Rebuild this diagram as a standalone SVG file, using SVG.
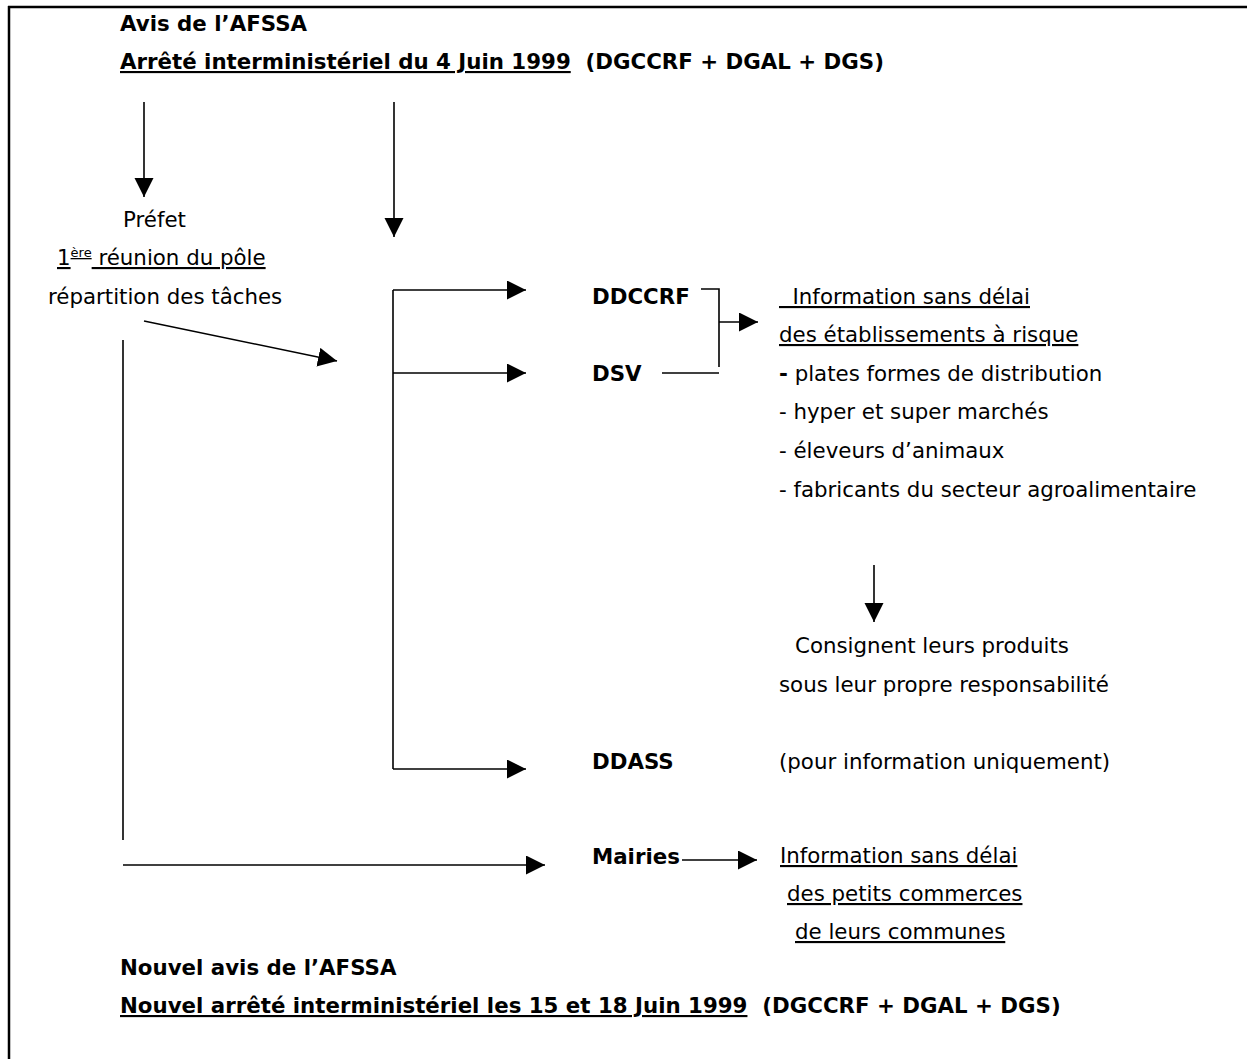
<svg xmlns="http://www.w3.org/2000/svg" width="1247" height="1059" viewBox="0 0 1247 1059">
<defs>
<style>
text{font-family:"DejaVu Sans",Verdana,sans-serif;font-size:21.33px;fill:#000;white-space:pre}
.b{font-weight:bold}
.u{text-decoration:underline}
.ln{stroke:#000;stroke-width:1.6;fill:none}
</style>
<marker id="ah" markerUnits="userSpaceOnUse" markerWidth="20" markerHeight="20" refX="19" refY="9.5" orient="auto">
<path d="M0,0 L19,9.5 L0,19 z" fill="#000"/>
</marker>
</defs>
<rect width="1247" height="1059" fill="#fff"/>
<g id="frame">
<line x1="8" y1="7" x2="1247" y2="7" stroke="#000" stroke-width="2.5"/>
<line x1="9" y1="6" x2="9" y2="1059" stroke="#000" stroke-width="2.5"/>
</g>
<g id="header">
<text class="b" x="120" y="31">Avis de l’AFSSA</text>
<text class="b" x="120" y="69"><tspan class="u">Arrêté interministériel du 4 Juin 1999</tspan>  (DGCCRF + DGAL + DGS)</text>
</g>
<g id="prefet">
<text x="123" y="227">Préfet</text>
<text class="u" x="57" y="265">1<tspan font-size="13" dy="-8">ère</tspan><tspan dy="8"> réunion du pôle</tspan></text>
<text x="48" y="304">répartition des tâches</text>
</g>
<g id="ddccrf"><text class="b" x="592" y="304">DDCCRF</text></g>
<g id="dsv"><text class="b" x="592" y="381">DSV</text></g>
<g id="info-etab">
<text class="u" x="779" y="304">  Information sans délai</text>
<text class="u" x="779" y="342">des établissements à risque</text>
<text x="779" y="381"><tspan class="b">-</tspan> plates formes de distribution</text>
<text x="779" y="419">- hyper et super marchés</text>
<text x="779" y="458">- éleveurs d’animaux</text>
<text x="779" y="497">- fabricants du secteur agroalimentaire</text>
</g>
<g id="consignent">
<text x="795" y="653">Consignent leurs produits</text>
<text x="779" y="692">sous leur propre responsabilité</text>
</g>
<g id="ddass">
<text class="b" x="592" y="769">DDASS</text>
<text x="779" y="769">(pour information uniquement)</text>
</g>
<g id="mairies"><text class="b" x="592" y="864">Mairies</text></g>
<g id="info-communes">
<text class="u" x="780" y="863">Information sans délai</text>
<text class="u" x="787" y="901">des petits commerces</text>
<text class="u" x="795" y="939">de leurs communes</text>
</g>
<g id="footer">
<text class="b" x="120" y="975">Nouvel avis de l’AFSSA</text>
<text class="b" x="120" y="1013"><tspan class="u">Nouvel arrêté interministériel les 15 et 18 Juin 1999</tspan>  (DGCCRF + DGAL + DGS)</text>
</g>
<g id="connectors">
<line class="ln" x1="144" y1="102" x2="144" y2="197" marker-end="url(#ah)"/>
<line class="ln" x1="394" y1="102" x2="394" y2="237" marker-end="url(#ah)"/>
<line class="ln" x1="144" y1="321" x2="337" y2="361" marker-end="url(#ah)"/>
<line class="ln" x1="123" y1="340" x2="123" y2="840"/>
<polyline class="ln" points="393,290 393,769"/>
<line class="ln" x1="393" y1="290" x2="526" y2="290" marker-end="url(#ah)"/>
<line class="ln" x1="393" y1="373" x2="526" y2="373" marker-end="url(#ah)"/>
<line class="ln" x1="393" y1="769" x2="526" y2="769" marker-end="url(#ah)"/>
<polyline class="ln" points="701,289 719,289 719,367"/>
<line class="ln" x1="662" y1="373" x2="719" y2="373"/>
<line class="ln" x1="719" y1="322" x2="758" y2="322" marker-end="url(#ah)"/>
<line class="ln" x1="874" y1="565" x2="874" y2="622" marker-end="url(#ah)"/>
<line class="ln" x1="123" y1="865" x2="545" y2="865" marker-end="url(#ah)"/>
<line class="ln" x1="682" y1="860" x2="757" y2="860" marker-end="url(#ah)"/>
</g>
</svg>
